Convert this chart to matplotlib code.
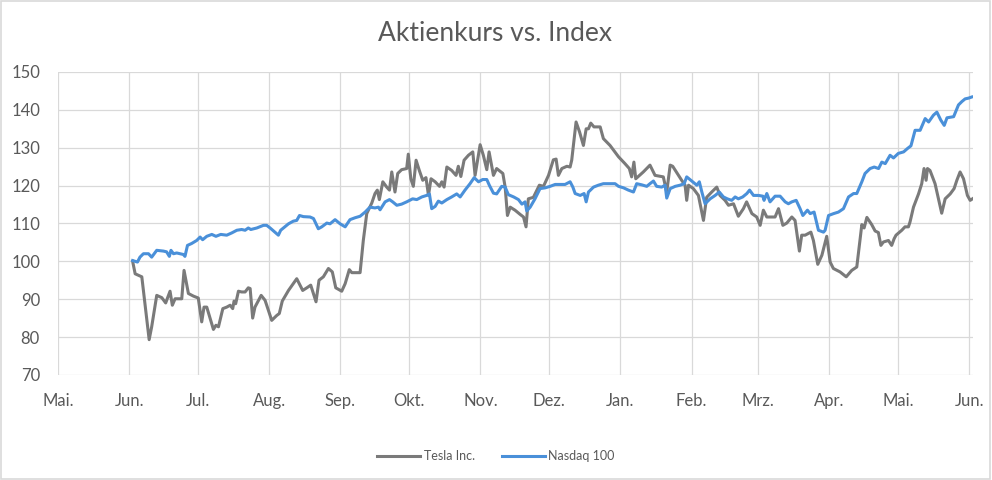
import pandas as pd
import matplotlib.pyplot as plt
from matplotlib.patches import Rectangle

plt.rcParams['font.family'] = ['Lato', 'DejaVu Sans']

# === Daten (Tage ab 01.05., indexiert auf 100) ===
start = pd.Timestamp("2019-05-01")

tesla_days = [32.5, 33.6, 35.0, 36.5, 39.7, 40.8, 43.0, 45.2, 46.9, 48.8, 49.8, 51.0, 53.9, 54.9,
              56.8, 59.0, 61.1, 62.6, 63.6, 64.8, 67.7, 68.8, 69.9, 71.8, 73.5, 75.0, 76.1, 76.7,
              77.4, 78.6, 80.0, 81.5, 82.9, 83.7, 84.8, 85.8, 88.5, 90.2, 93.1, 95.3, 96.4, 97.7,
              100.4, 104.0, 106.6, 108.4, 110.1, 112.4, 113.7, 115.6, 117.8, 119.5, 121.0, 123.6,
              125.1, 126.9, 128.0, 131.6, 133.0, 134.5, 136.7, 138.1, 139.1, 140.0, 141.5, 143.2,
              144.4, 145.4, 146.8, 148.0, 149.7, 151.9, 152.6, 153.7, 154.8, 156.0, 157.4, 158.9,
              160.3, 161.4, 162.5, 164.3, 166.2, 167.2, 168.2, 169.4, 171.5, 173.4, 174.4, 175.5,
              176.9, 178.8, 180.7, 181.7, 183.9, 185.3, 186.8, 187.8, 189.7, 191.1, 193.8, 194.8,
              195.8, 197.0, 199.1, 201.3, 202.8, 203.9, 204.9, 207.1, 209.7, 211.5, 213.7, 215.8,
              217.0, 218.0, 219.5, 221.7, 223.1, 223.8, 225.7, 227.2, 228.9, 230.1, 231.1, 232.1,
              233.5, 236.2, 237.6, 240.5, 244.2, 247.0, 248.9, 249.9, 250.9, 251.7, 255.0, 257.9,
              260.1, 263.7, 265.2, 266.7, 267.8, 270.3, 271.7, 273.2, 273.9, 274.7, 276.8, 279.0,
              281.2, 282.6, 284.8, 287.0, 288.4, 290.6, 292.1, 294.3, 296.4, 298.6, 300.0, 302.3,
              304.4, 305.9, 307.3, 308.8, 312.4, 313.9, 315.8, 317.5, 319.7, 321.1, 323.0, 324.0,
              325.5, 328.0, 329.1, 331.0, 332.8, 334.9, 336.4, 337.8, 340.7, 343.4, 345.8, 348.0,
              350.2, 351.2, 352.4, 354.5, 356.0, 357.4, 358.5, 359.6, 361.8, 363.2, 364.3, 365.1,
              367.6, 369.0, 370.5, 371.2, 372.7, 374.9, 376.3, 377.3, 378.2, 378.8, 379.9, 382.1,
              383.6, 385.0, 386.5, 388.7, 390.4, 391.6, 393.0, 394.5, 396.2, 397.4, 398.4]
tesla = [100.0, 96.7, 96.3, 95.9, 79.3, 82.7, 91.0, 90.4, 89.0, 92.1, 88.4, 90.1, 90.1, 97.6,
         91.5, 90.8, 90.3, 84.0, 87.9, 87.9, 82.0, 83.1, 82.7, 87.5, 87.9, 88.4, 87.5, 89.5,
         88.8, 92.1, 91.9, 91.9, 93.0, 92.8, 85.0, 87.9, 91.0, 89.7, 84.4, 85.7, 86.2, 89.5,
         92.3, 95.4, 92.3, 93.0, 93.7, 89.3, 95.0, 95.9, 98.1, 97.2, 93.0, 92.1,
         94.1, 97.8, 97.0, 97.0, 105.5, 112.6, 115.4, 117.9, 118.8, 116.3, 121.0, 119.6,
         118.8, 123.6, 118.3, 123.2, 124.2, 124.5, 128.3, 121.8, 119.8, 126.7, 124.0, 121.4,
         122.1, 117.4, 121.8, 121.0, 119.8, 121.0, 119.6, 124.9, 124.0, 122.7, 125.1, 122.4,
         126.7, 128.0, 128.9, 122.7, 130.8, 128.0, 124.2, 128.9, 122.7, 124.5, 123.2, 119.6,
         112.1, 114.3, 113.5, 112.4, 111.7, 109.1, 116.5, 116.9, 120.1, 119.8, 122.7, 126.8,
         127.0, 122.7, 124.5, 125.1, 124.9, 126.7, 136.8, 134.2, 130.6, 135.0, 135.0, 136.5,
         135.5, 135.5, 132.4, 130.6, 127.6, 125.8, 124.5, 122.3, 126.2, 121.8, 123.6, 125.4,
         122.7, 122.3, 118.3, 125.4, 125.1, 122.7, 121.4, 120.1, 116.1, 120.1, 119.2, 117.4,
         110.8, 116.9, 118.3, 119.6, 117.4, 116.1, 114.8, 115.2, 111.9, 113.9, 115.7, 112.6,
         111.7, 109.5, 113.5, 111.7, 111.7, 113.9, 109.5, 110.1, 111.7, 110.8, 102.7, 106.9,
         106.9, 107.7, 105.5, 99.2, 101.6, 106.6, 99.8, 98.1, 97.2, 95.9, 97.6, 98.5,
         109.7, 108.8, 111.6, 109.7, 108.0, 107.6, 104.2, 105.1, 105.5, 104.2, 106.0, 106.9,
         108.2, 109.1, 109.1, 110.4, 114.3, 117.8, 120.5, 124.5, 121.4, 124.5, 124.0, 120.5,
         116.5, 112.7, 116.5, 117.8, 119.2, 121.4, 123.6, 121.8, 117.4, 116.1, 116.5]

nasdaq_days = [32.5, 33.6, 34.6, 35.7, 37.2, 39.4, 40.8, 43.0, 45.9, 47.3, 48.5, 49.2, 50.3, 51.7,
               54.6, 55.3, 56.4, 58.2, 60.4, 61.9, 63.0, 64.8, 67.0, 68.8, 70.9, 73.5, 75.7, 77.9,
               80.0, 81.5, 82.9, 84.0, 86.6, 89.5, 90.9, 92.4, 94.5, 96.0, 97.0, 98.2, 100.4, 102.5,
               104.0, 105.2, 106.9, 109.8, 111.3, 113.4, 114.9, 117.1, 118.5, 120.7, 122.9, 125.1,
               127.2, 129.4, 131.6, 133.8, 135.9, 138.1, 139.6, 140.3, 142.5, 144.4, 145.8, 147.6,
               149.7, 151.9, 154.5, 156.3, 158.5, 160.6, 161.8, 162.8, 164.3, 165.7, 167.2, 169.4,
               171.5, 173.7, 175.2, 177.3, 179.5, 181.3, 183.2, 185.0, 186.8, 187.9, 189.7, 191.1,
               193.3, 194.8, 196.2, 198.5, 200.6, 202.1, 203.5, 204.2, 205.7, 207.8, 210.0, 212.2,
               214.4, 216.6, 218.7, 220.9, 223.1, 224.3, 225.3, 227.5, 229.2, 230.1, 231.1, 233.3,
               235.4, 237.6, 240.5, 242.7, 244.2, 246.4, 248.5, 250.7, 252.1, 254.3, 256.5, 257.9,
               259.4, 260.8, 263.0, 264.5, 265.2, 266.7, 268.9, 271.0, 272.8, 273.9, 276.1, 278.3,
               279.4, 280.5, 281.9, 284.1, 286.3, 288.1, 289.9, 291.6, 293.5, 295.0, 296.4, 298.3,
               300.1, 301.3, 303.0, 305.2, 307.1, 307.6, 308.8, 310.2, 312.4, 314.6, 316.8, 318.2,
               319.7, 321.6, 323.3, 324.5, 326.5, 327.7, 329.4, 331.3, 333.5, 334.2, 335.7, 337.9,
               340.0, 342.2, 344.4, 346.6, 348.0, 350.2, 351.6, 353.8, 355.6, 357.5, 358.9, 360.4,
               362.5, 364.0, 366.1, 368.4, 370.1, 371.6, 373.4, 375.6, 377.8, 379.3, 381.4, 382.9,
               384.6, 386.1, 387.3, 390.2, 392.3, 393.8, 395.2, 396.7, 398.1]
nasdaq = [100.2, 100.0, 99.8, 101.1, 102.0, 102.0, 101.1, 102.9, 102.7, 102.5, 101.3, 102.9, 102.0, 102.2,
          101.8, 101.3, 104.2, 104.7, 105.5, 106.4, 105.7, 106.6, 107.1, 106.6, 107.1, 106.9, 107.5, 108.2,
          108.4, 108.2, 108.8, 108.4, 108.8, 109.5, 109.5, 108.8, 107.7, 106.9, 108.2, 108.8, 109.9, 110.6,
          110.8, 112.1, 111.8, 111.7, 111.3, 108.6, 109.1, 110.1, 109.9, 111.0, 109.9, 109.1,
          111.0, 111.5, 111.9, 113.0, 114.3, 114.1, 114.3, 113.6, 115.7, 116.3, 115.7, 114.8,
          115.1, 115.7, 116.5, 116.3, 117.0, 117.4, 117.8, 113.9, 114.5, 115.9, 115.4, 116.3,
          117.0, 117.8, 117.0, 118.8, 120.5, 122.1, 121.0, 121.6, 121.6, 120.1, 118.0, 117.8,
          119.8, 119.6, 117.6, 117.0, 116.3, 115.1, 115.7, 113.3, 114.3, 116.5, 119.2, 119.4,
          119.8, 120.3, 120.3, 120.3, 121.0, 119.6, 117.9, 117.4, 117.9, 115.7, 118.3, 119.6,
          120.1, 120.5, 120.5, 120.5, 119.8, 119.4, 118.8, 118.3, 120.5, 120.2, 119.8, 120.5,
          121.2, 119.8, 119.6, 120.1, 116.7, 119.2, 119.8, 120.1, 120.5, 122.3, 121.2, 120.1,
          121.0, 118.3, 115.2, 116.5, 117.4, 118.3, 117.0, 116.5, 116.1, 117.0, 116.5, 117.0,
          117.9, 118.8, 117.4, 117.4, 117.2, 116.1, 117.9, 115.7, 117.2, 117.2, 115.7, 115.2,
          115.7, 116.1, 113.9, 112.1, 113.5, 112.6, 113.0, 108.2, 107.7, 108.2, 112.1, 112.6,
          113.0, 113.9, 117.0, 117.9, 117.9, 121.0, 123.2, 124.5, 124.9, 124.5, 126.2, 125.8,
          128.0, 127.3, 128.5, 128.9, 129.8, 130.5, 134.6, 134.6, 137.7, 136.8, 138.6, 139.4,
          137.3, 135.9, 137.9, 138.2, 141.3, 142.2, 142.9, 143.1, 143.4]

month_labels = ["Mai.", "Jun.", "Jul.", "Aug.", "Sep.", "Okt.", "Nov.", "Dez.",
                "Jan.", "Feb.", "Mrz.", "Apr.", "Mai.", "Jun."]

tesla_x = start + pd.to_timedelta(tesla_days, unit="D")
nasdaq_x = start + pd.to_timedelta(nasdaq_days, unit="D")
month_ticks = pd.date_range(start, periods=len(month_labels), freq="MS")

# === Grafik ===
text_col = "#595959"
grid_col = "#d9d9d9"

fig = plt.figure(figsize=(9.92, 4.8), dpi=100)
ax = fig.add_axes([0.0585, 0.219, 0.9225, 0.631])

ax.plot(tesla_x, tesla, color="#7a7a7a", lw=2.2, label="Tesla Inc.", solid_joinstyle="round")
ax.plot(nasdaq_x, nasdaq, color="#4a90d9", lw=2.2, label="Nasdaq 100", solid_joinstyle="round")

ax.set_ylim(70, 150)
ax.set_yticks(range(70, 151, 10))
ax.set_xlim(start, start + pd.Timedelta(days=398.7))
ax.set_xticks(month_ticks)
ax.set_xticklabels(month_labels)

ax.grid(True, color=grid_col, lw=0.9)
ax.set_axisbelow(True)
for s in ax.spines.values():
    s.set_visible(False)
ax.tick_params(length=0, colors=text_col, labelsize=12)
ax.tick_params(axis="y", pad=13)
ax.tick_params(axis="x", pad=13)

fig.suptitle("Aktienkurs vs. Index", x=0.499, y=0.931, fontsize=19, color=text_col, va="center")

leg = fig.legend(loc="center", bbox_to_anchor=(0.5, 0.05), ncol=2, frameon=False,
                 fontsize=9, handlelength=3.4, handletextpad=0.3, columnspacing=2.2)
for t in leg.get_texts():
    t.set_color(text_col)

fig.patches.append(Rectangle((0.001, 0.002), 0.997, 0.996, transform=fig.transFigure,
                             fill=False, edgecolor=grid_col, lw=1.2))

fig.savefig("out.png", dpi=100)
